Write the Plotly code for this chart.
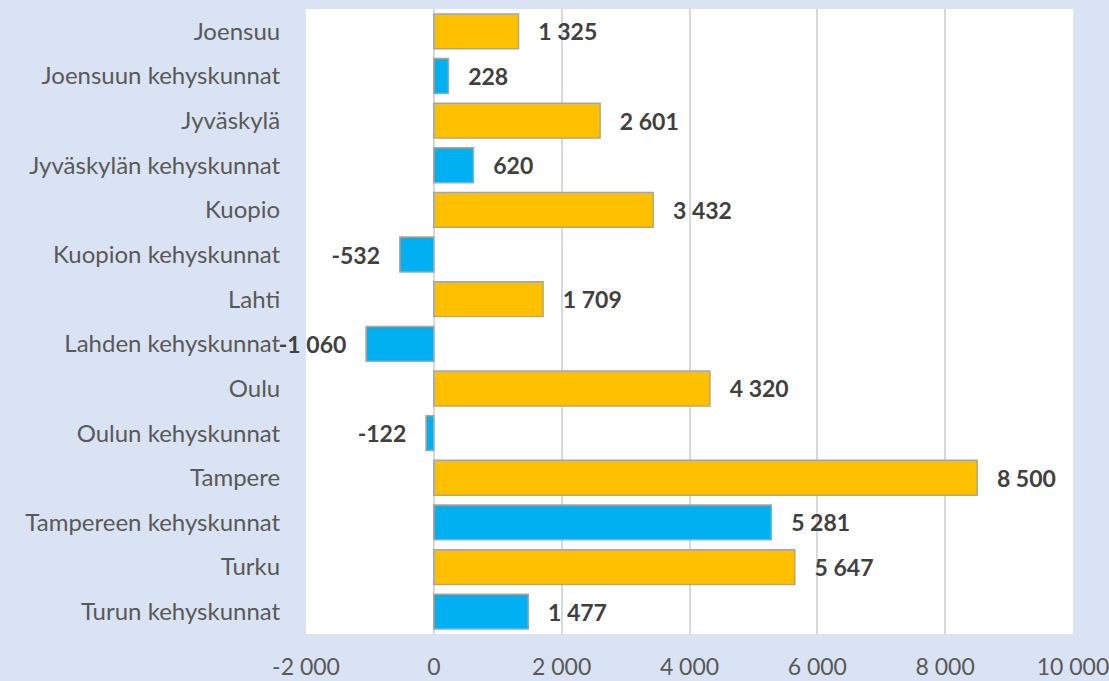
import plotly.graph_objects as go

categories = ["Joensuu", "Joensuun kehyskunnat", "Jyväskylä", "Jyväskylän kehyskunnat",
              "Kuopio", "Kuopion kehyskunnat", "Lahti", "Lahden kehyskunnat",
              "Oulu", "Oulun kehyskunnat", "Tampere", "Tampereen kehyskunnat",
              "Turku", "Turun kehyskunnat"]
values = [1325, 228, 2601, 620, 3432, -532, 1709, -1060, 4320, -122, 8500, 5281, 5647, 1477]
colors = ["#FFC000" if i % 2 == 0 else "#00B0F0" for i in range(len(values))]
tick_vals = [-2000, 0, 2000, 4000, 6000, 8000, 10000]
tick_text = ["-2 000", "0", "2 000", "4 000", "6 000", "8 000", "10 000"]

NB = "\u00a0"

def fmt(v):
    s = f"{abs(v):,}".replace(",", " ")
    if v < 0:
        return "-" + s + NB * 3
    return NB * 3 + s

labels = [fmt(v) for v in values]

FONT = "Lato"

fig = go.Figure(go.Bar(
    x=values, y=categories, orientation="h",
    marker=dict(color=colors, line=dict(color="#A6A6A6", width=1.5)),
    text=labels, textposition="outside", cliponaxis=False,
    textfont=dict(family=FONT, size=23, color="#404040", weight="bold"),
    width=0.78,
))

fig.update_layout(
    width=1109, height=681,
    paper_bgcolor="#DAE3F3", plot_bgcolor="#FFFFFF",
    margin=dict(l=306, r=36, t=9, b=47),
    showlegend=False,
    font=dict(family=FONT, size=23, color="#595959"),
    xaxis=dict(range=[-2000, 10000], tickvals=tick_vals, ticktext=tick_text,
               showgrid=True, gridcolor="#D9D9D9", gridwidth=1.5,
               zeroline=True, zerolinecolor="#D9D9D9", zerolinewidth=1.5,
               ticks="outside", ticklen=12, tickcolor="rgba(0,0,0,0)",
               tickfont=dict(size=23, color="#595959"),
               automargin=False, ticklabeloverflow="allow"),
    yaxis=dict(categoryorder="array", categoryarray=categories[::-1],
               showgrid=False, zeroline=False,
               ticks="outside", ticklen=20, tickcolor="rgba(0,0,0,0)",
               tickfont=dict(size=24, color="#595959"),
               automargin=False, ticklabeloverflow="allow"),
)

fig.write_html("out.html", config={"displayModeBar": False},
               post_script="document.body.style.margin='0px';document.body.style.padding='0px';")
